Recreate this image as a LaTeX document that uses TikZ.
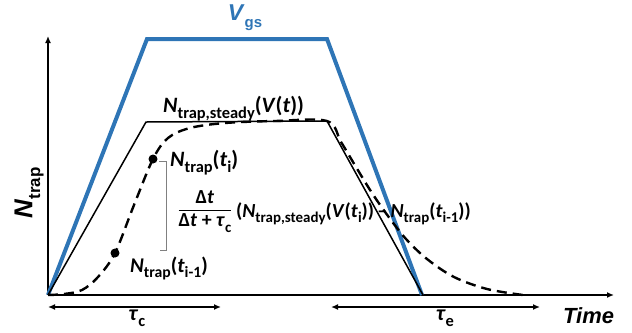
\documentclass[tikz,border=0pt]{standalone}
\usepackage{fontspec}
\usepackage{graphicx}
\setmainfont{Carlito}
\newfontfamily\arialf{Liberation Sans}
\usetikzlibrary{arrows.meta}
\definecolor{vblue}{RGB}{46,117,182}
\newcommand\sbs[1]{\raisebox{-0.28em}{\scalebox{0.75}{\upshape #1}}}
\newcommand\ntrap{\textit{N}\sbs{trap}}
\newcommand\ntrs{\textit{N}\sbs{trap,steady}}
\begin{document}
\begin{tikzpicture}[x=1bp,y=-1bp,
  lbl/.style={inner sep=0pt, font=\bfseries\fontsize{20}{22}\selectfont},
  biglbl/.style={lbl, font=\bfseries\fontsize{22}{24}\selectfont},
  axis/.style={line width=1.4bp, -{Latex[length=7bp,width=6bp]}},
  span/.style={line width=1.4bp, {Latex[length=7bp,width=6bp]}-{Latex[length=7bp,width=6bp]}},
  vline/.style={vblue, line width=4bp, line join=miter},
  sline/.style={black, line width=1.5bp},
  dline/.style={black, line width=2.4bp, dash pattern=on 10bp off 6bp},
  dotm/.style={circle, fill=black, inner sep=0pt, minimum size=9bp},
  brk/.style={gray, line width=0.8bp}]
\useasboundingbox (0,0) rectangle (632,332);
% axes
\coordinate (O) at (48,295);
\coordinate (Ytip) at (48,36);
\coordinate (Xtip) at (614,295);
\draw[axis] (O) -- (Ytip);
\draw[axis] (O) -- (Xtip);
% Vgs
\coordinate (b1) at (147,39);
\coordinate (b2) at (327,39);
\coordinate (b3) at (422,295);
\draw[vline] (O) -- (b1) -- (b2) -- (b3);
% steady
\coordinate (s1) at (146,122);
\coordinate (s2) at (327,121);
\coordinate (s3) at (423,295);
\draw[sline] (O) -- (s1) -- (s2) -- (s3);
% dashed curve
\draw[dline] plot[smooth, tension=0.55] coordinates {(48,295) (64,294) (82,290) (98,277) (115,253) (134,205) (153,159) (168,138) (190,128) (225,123) (275,121) (327,121)
 (341,142) (356,167) (372,193) (388,216) (406,239) (427,259) (454,277) (487,289) (523,295)};
% dots
\node[dotm] (d1) at (115,253) {};
\node[dotm] (d2) at (153,159) {};
% bracket
\coordinate (k1) at (159,161);
\coordinate (k2) at (166,161);
\coordinate (k3) at (166,250);
\coordinate (k4) at (160,250);
\draw[brk] (k1) -- (k2) -- (k3) -- (k4);
% spans
\coordinate (c1) at (48,307);
\coordinate (c2) at (221,307);
\coordinate (e1) at (331,307);
\coordinate (e2) at (540,307);
\draw[span] (c1) -- (c2);
\draw[span] (e1) -- (e2);
% labels
\node[inner sep=0pt, text=vblue, font=\arialf\bfseries\fontsize{23}{24}\selectfont] (vgs) at (245,18) {\textit{V}\raisebox{-0.3em}{\fontsize{15}{16}\selectfont gs}};
\node[biglbl, anchor=base west] (steady) at (163,112) {\ntrs(\textit{V}(\textit{t}))};
\node[biglbl, anchor=base west] (nti) at (170,166) {\ntrap(\textit{t}\sbs{i})};
\node[lbl, font=\bfseries\fontsize{21}{22}\selectfont, anchor=base west] (nti1) at (130,272) {\ntrap(\textit{t}\sbs{i-1})};
\node[lbl] (frac) at (205,211) {\begin{tabular}{@{}c@{}}Δ\textit{t}\\[-1pt]\hline\rule{0pt}{17pt}Δ\textit{t} + \textit{τ}\sbs{c}\end{tabular}};
\node[lbl, anchor=base west] (form) at (236,217) {(\ntrs(\textit{V}(\textit{t}\sbs{i}))\,–\,\ntrap(\textit{t}\sbs{i-1}))};
\node[inner sep=0pt, rotate=90, font=\arialf\bfseries\fontsize{26}{28}\selectfont] (ylab) at (29,193) {\textit{N}\raisebox{-0.3em}{\fontsize{17}{18}\selectfont trap}};
\node[lbl, font=\bfseries\fontsize{22}{24}\selectfont] (tauc) at (137,318) {\textit{τ}\sbs{c}};
\node[lbl, font=\bfseries\fontsize{22}{24}\selectfont] (taue) at (445,318) {\textit{τ}\sbs{e}};
\node[inner sep=0pt, anchor=base west, font=\arialf\bfseries\itshape\fontsize{22}{24}\selectfont] (time) at (563,323) {Time};
\end{tikzpicture}
\end{document}
